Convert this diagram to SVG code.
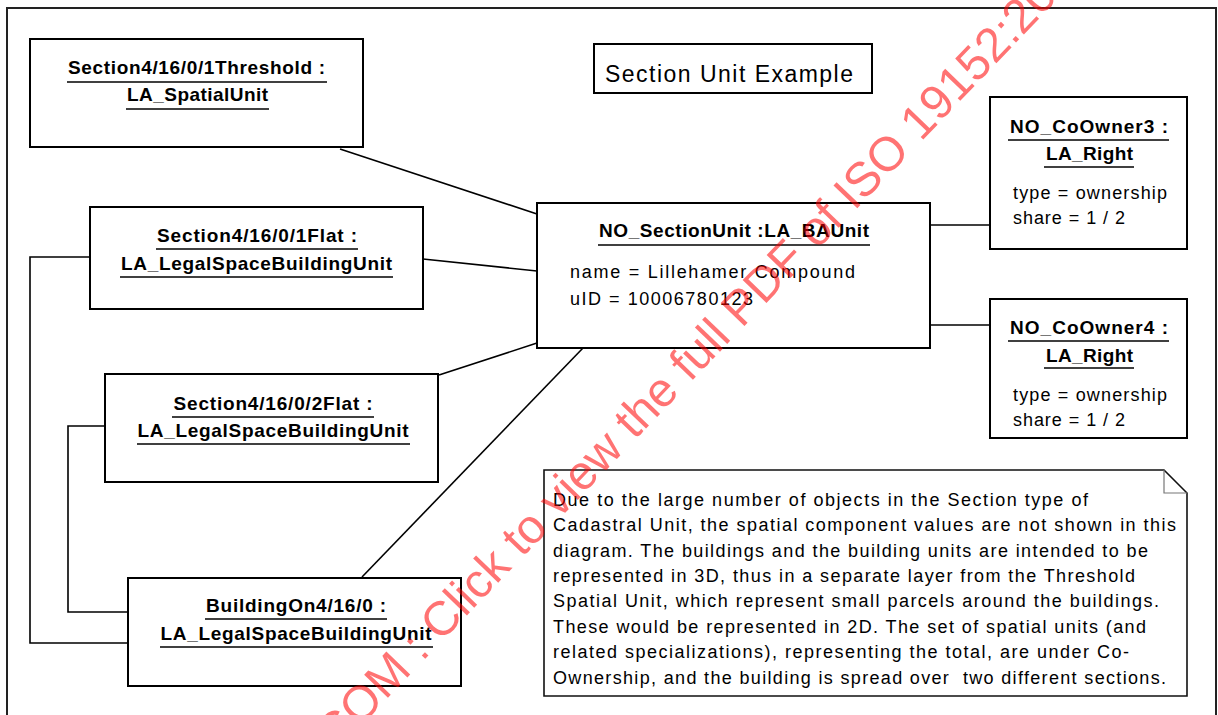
<svg xmlns="http://www.w3.org/2000/svg" width="1218" height="715" viewBox="0 0 1218 715">
<style>
.box{fill:#fff;stroke:#000;stroke-width:2}
.con{fill:none;stroke:#000;stroke-width:1.6}
.ul{stroke:#000;stroke-width:1.6}
.t{font-family:"Liberation Sans",Arial,sans-serif;fill:#000}
.b{font-weight:bold;font-size:19px}
.a{font-size:18px}
.n{font-size:18px}
.wm{font-family:"Liberation Sans",Arial,sans-serif;font-size:48px;fill:#ff0000;fill-opacity:0.55}
</style>
<rect x="7" y="8" width="1209" height="730" fill="#fff" stroke="#222" stroke-width="2"/>
<g id="connectors">
<line class="con" x1="340" y1="149" x2="537" y2="214"/>
<line class="con" x1="423" y1="259" x2="537" y2="271"/>
<line class="con" x1="439" y1="375" x2="537" y2="343"/>
<line class="con" x1="362" y1="577" x2="583" y2="348"/>
<line class="con" x1="930" y1="225" x2="990" y2="225"/>
<line class="con" x1="930" y1="325" x2="990" y2="325"/>
<polyline class="con" points="90,257 30,257 30,643 128,643"/>
<polyline class="con" points="105,426 68,426 68,612 128,612"/>
</g>
<g id="title">
<rect class="box" x="594" y="44" width="278" height="49"/>
<text class="t" x="605" y="82" font-size="23" textLength="248" lengthAdjust="spacing">Section Unit Example</text>
</g>
<g id="threshold">
<rect class="box" x="30" y="39" width="333" height="108"/>
<text class="t b" x="196.5" y="74" text-anchor="middle" textLength="257" lengthAdjust="spacing">Section4/16/0/1Threshold :</text>
<line class="ul" x1="67" y1="82" x2="327" y2="82"/>
<text class="t b" x="197.5" y="101" text-anchor="middle" textLength="141" lengthAdjust="spacing">LA_SpatialUnit</text>
<line class="ul" x1="126" y1="109" x2="269" y2="109"/>
</g>
<g id="flat1">
<rect class="box" x="90" y="207" width="333" height="102"/>
<text class="t b" x="257" y="242" text-anchor="middle" textLength="200" lengthAdjust="spacing">Section4/16/0/1Flat :</text>
<line class="ul" x1="156" y1="249" x2="358" y2="249"/>
<text class="t b" x="256.5" y="270" text-anchor="middle" textLength="271" lengthAdjust="spacing">LA_LegalSpaceBuildingUnit</text>
<line class="ul" x1="120" y1="277" x2="393" y2="277"/>
</g>
<g id="flat2">
<rect class="box" x="105" y="374" width="333" height="108"/>
<text class="t b" x="273" y="410" text-anchor="middle" textLength="199" lengthAdjust="spacing">Section4/16/0/2Flat :</text>
<line class="ul" x1="172" y1="417" x2="374" y2="417"/>
<text class="t b" x="273" y="437" text-anchor="middle" textLength="271" lengthAdjust="spacing">LA_LegalSpaceBuildingUnit</text>
<line class="ul" x1="137" y1="444" x2="410" y2="444"/>
</g>
<g id="building">
<rect class="box" x="128" y="578" width="333" height="108"/>
<text class="t b" x="296" y="612" text-anchor="middle" textLength="180" lengthAdjust="spacing">BuildingOn4/16/0 :</text>
<line class="ul" x1="205" y1="619" x2="387" y2="619"/>
<text class="t b" x="296" y="640" text-anchor="middle" textLength="271" lengthAdjust="spacing">LA_LegalSpaceBuildingUnit</text>
<line class="ul" x1="160" y1="647" x2="433" y2="647"/>
</g>
<g id="sectionunit">
<rect class="box" x="537" y="203" width="393" height="145"/>
<text class="t b" x="734" y="237" text-anchor="middle" textLength="270" lengthAdjust="spacing">NO_SectionUnit :LA_BAUnit</text>
<line class="ul" x1="598" y1="245" x2="870" y2="245"/>
<text class="t a" x="570" y="278" textLength="285" lengthAdjust="spacing">name = Lillehamer Compound</text>
<text class="t a" x="570" y="305" textLength="183" lengthAdjust="spacing">uID = 10006780123</text>
</g>
<g id="coowner3">
<rect class="box" x="990" y="97" width="197" height="152"/>
<text class="t b" x="1089" y="133" text-anchor="middle" textLength="158" lengthAdjust="spacing">NO_CoOwner3 :</text>
<line class="ul" x1="1008" y1="140" x2="1169" y2="140"/>
<text class="t b" x="1089.5" y="160" text-anchor="middle" textLength="87" lengthAdjust="spacing">LA_Right</text>
<line class="ul" x1="1044" y1="167" x2="1134" y2="167"/>
<text class="t a" x="1013" y="199" textLength="154" lengthAdjust="spacing">type = ownership</text>
<text class="t a" x="1013" y="224" textLength="112" lengthAdjust="spacing">share = 1 / 2</text>
</g>
<g id="coowner4">
<rect class="box" x="990" y="299" width="197" height="139"/>
<text class="t b" x="1089" y="334" text-anchor="middle" textLength="158" lengthAdjust="spacing">NO_CoOwner4 :</text>
<line class="ul" x1="1008" y1="341" x2="1169" y2="341"/>
<text class="t b" x="1089.5" y="362" text-anchor="middle" textLength="87" lengthAdjust="spacing">LA_Right</text>
<line class="ul" x1="1044" y1="368" x2="1134" y2="368"/>
<text class="t a" x="1013" y="401" textLength="154" lengthAdjust="spacing">type = ownership</text>
<text class="t a" x="1013" y="426" textLength="112" lengthAdjust="spacing">share = 1 / 2</text>
</g>
<g id="note">
<polygon points="544,470 1164,470 1187,493 1187,696 544,696" fill="#fff" stroke="#111" stroke-width="1.6"/>
<polyline points="1164,470 1164,493 1187,493" fill="none" stroke="#777" stroke-width="1.2"/>
<text class="t n" x="553" y="505.7" textLength="535" lengthAdjust="spacing">Due to the large number of objects in the Section type of</text>
<text class="t n" x="553" y="531.1" textLength="623" lengthAdjust="spacing">Cadastral Unit, the spatial component values are not shown in this</text>
<text class="t n" x="553" y="556.5" textLength="595" lengthAdjust="spacing">diagram. The buildings and the building units are intended to be</text>
<text class="t n" x="553" y="581.9" textLength="582" lengthAdjust="spacing">represented in 3D, thus in a separate layer from the Threshold</text>
<text class="t n" x="553" y="607.3" textLength="606" lengthAdjust="spacing">Spatial Unit, which represent small parcels around the buildings.</text>
<text class="t n" x="553" y="632.7" textLength="593" lengthAdjust="spacing">These would be represented in 2D. The set of spatial units (and</text>
<text class="t n" x="553" y="658.1" textLength="576" lengthAdjust="spacing">related specializations), representing the total, are under Co-</text>
<text class="t n" x="553" y="683.5" textLength="613" lengthAdjust="spacing" xml:space="preserve">Ownership, and the building is spread over  two different sections.</text>
</g>
<text class="wm" transform="translate(335.5,752.4) rotate(-46.2)">COM : Click to view the full PDF of ISO 19152:20</text>
</svg>
